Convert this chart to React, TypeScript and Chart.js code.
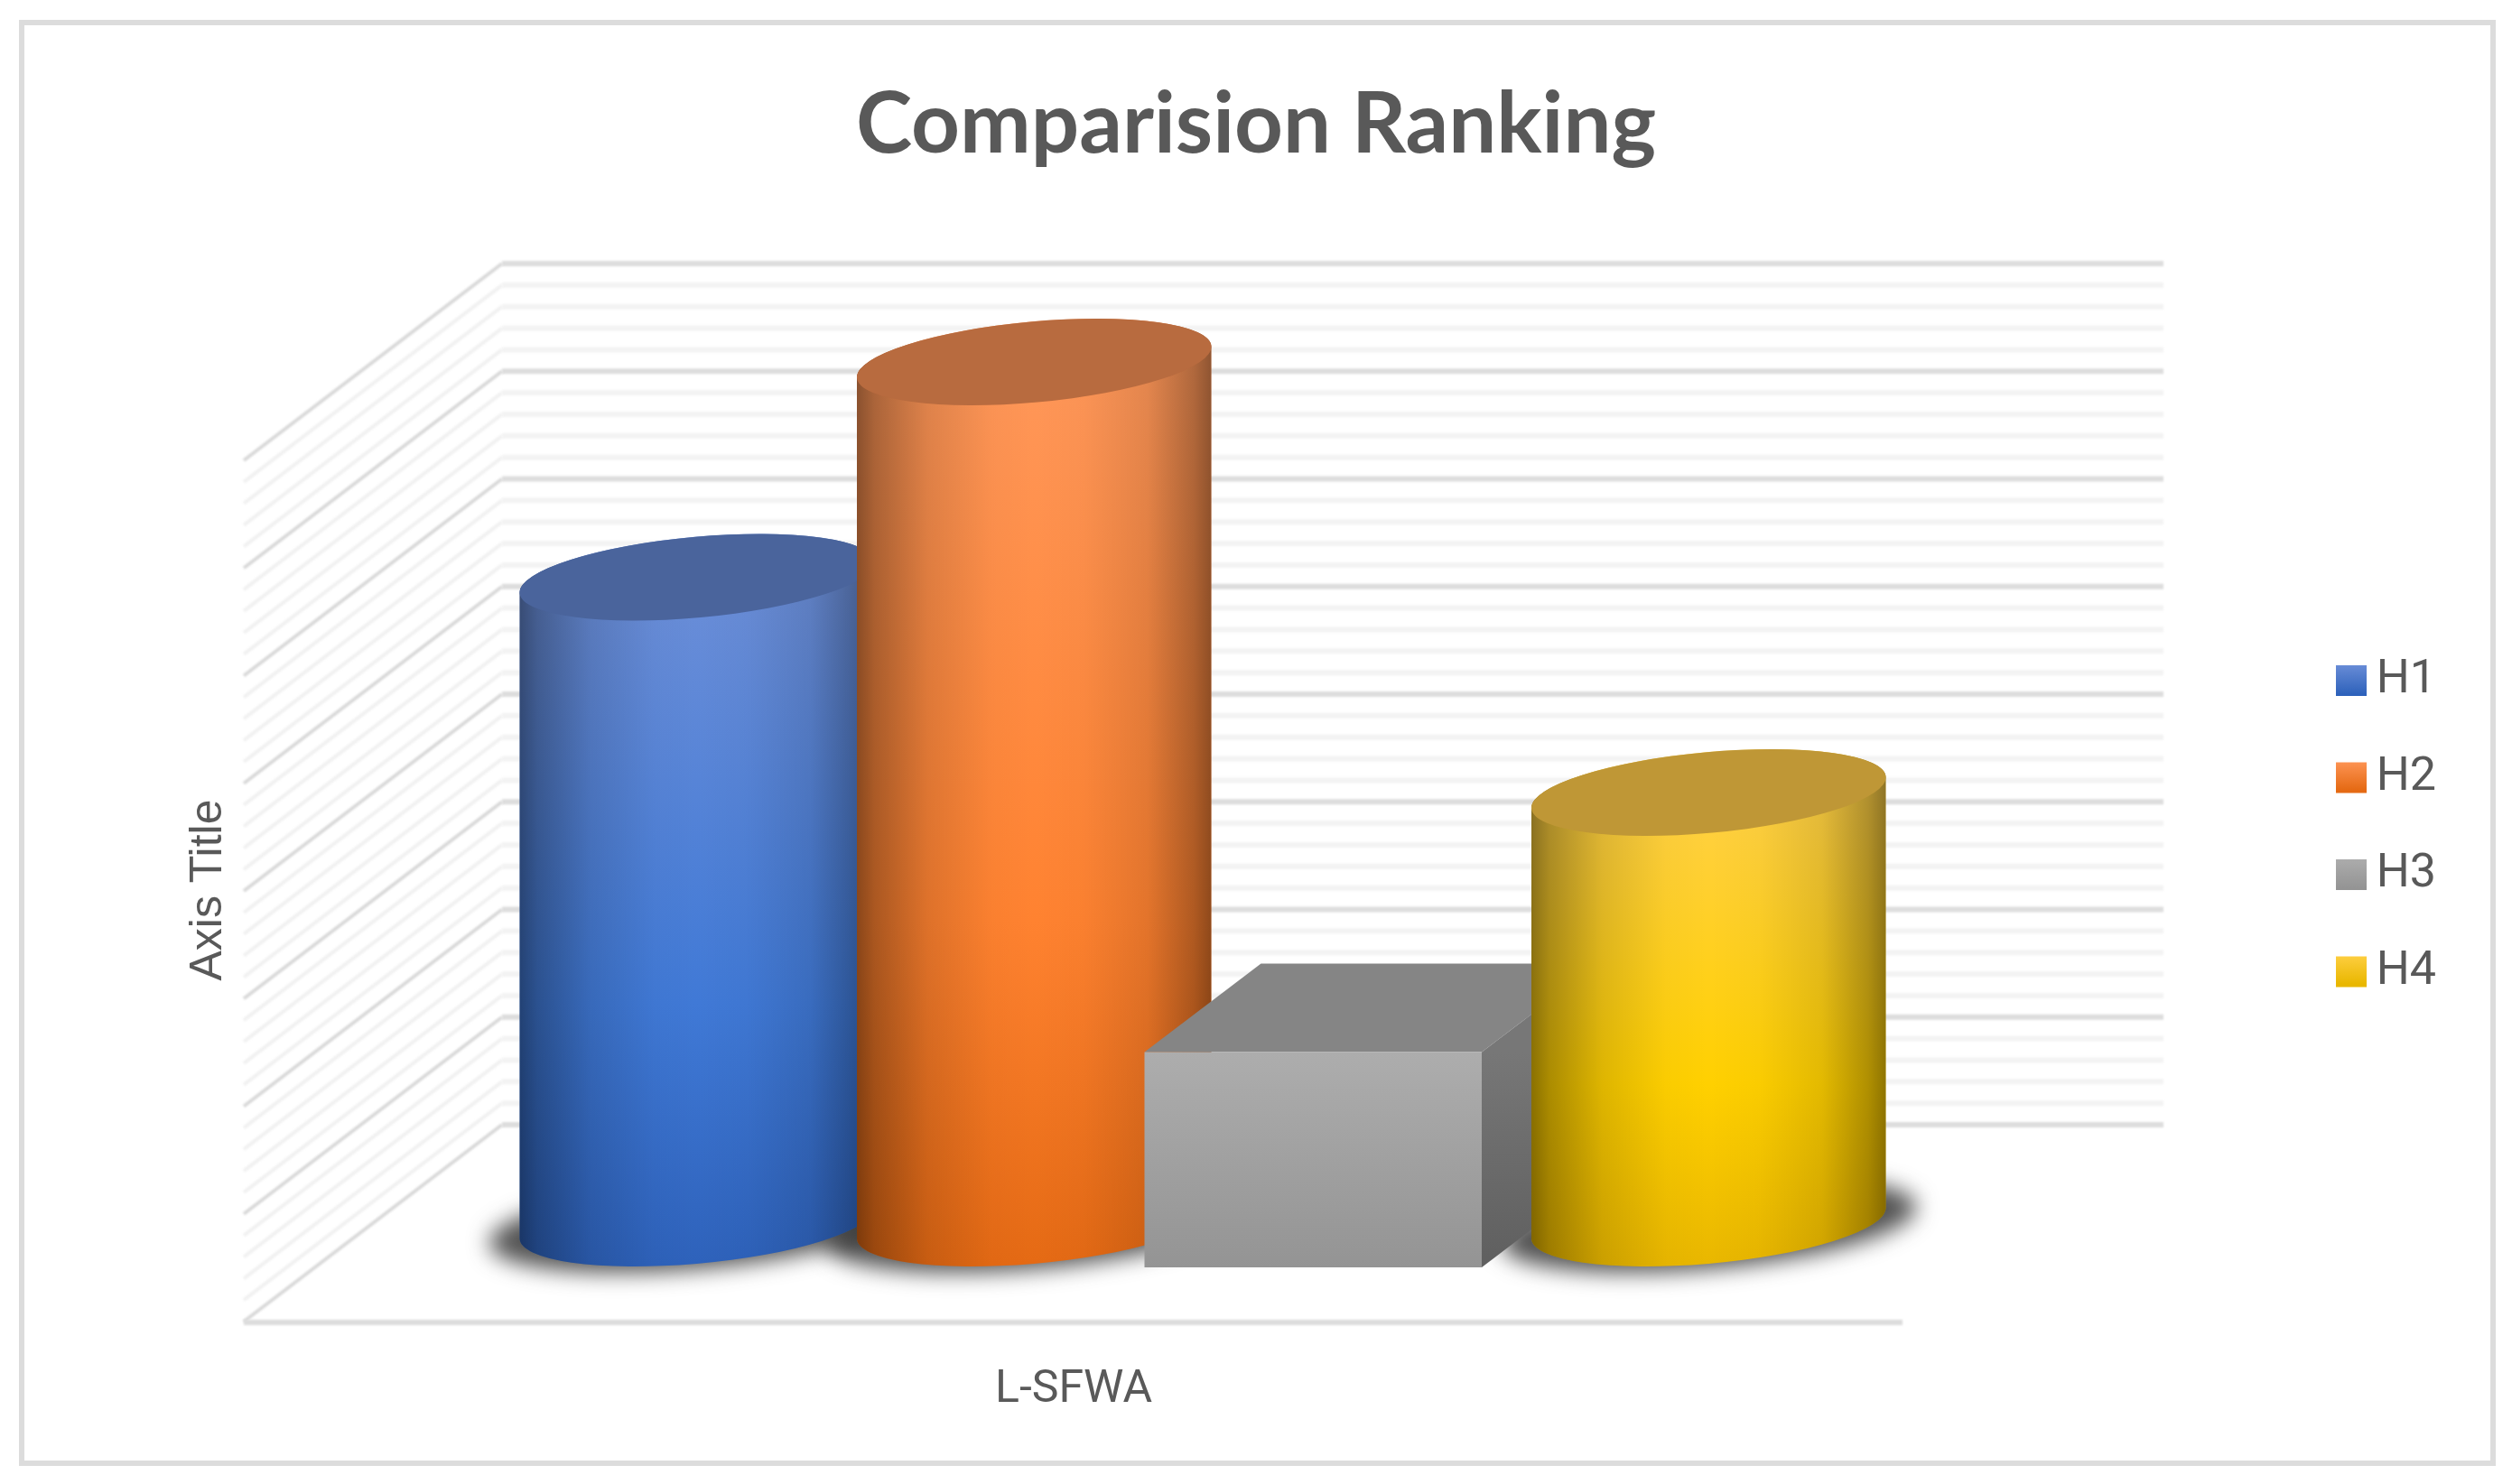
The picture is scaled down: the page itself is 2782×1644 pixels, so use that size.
import React, { useEffect, useRef } from "react";
import { Chart, registerables } from "chart.js";

Chart.register(...registerables);

const categories = ["L-SFWA"];
const seriesNames = ["H1", "H2", "H3", "H4"];
const h1Values = [3];
const h2Values = [4];
const h3Values = [1];
const h4Values = [2];
const axisMin = 0;
const axisMax = 4;
const minorStep = 0.1;
const minorPerMajor = 5;
const chartTitle = "Comparision Ranking";
const axisTitle = "Axis Title";

const W = 2782;
const H = 1644;
const AREA_LEFT = 585;
const AREA_RIGHT = 2079;
const AREA_TOP = 401;
const AREA_BOTTOM = 1355;
const DEPTH_HALF_Y = 109;
const TEXT = "#595959";

type Tone = { top: string; mid: string; bot: string; cap: string };
const tones: Tone[] = [
  { top: "#6b8ed8", mid: "#4079d6", bot: "#2e62bb", cap: "#4a649c" },
  { top: "#ff9759", mid: "#ff8230", bot: "#e56a14", cap: "#b86b3f" },
  { top: "#adadad", mid: "#a2a2a2", bot: "#949494", cap: "#858585" },
  { top: "#ffd045", mid: "#ffd000", bot: "#e9b700", cap: "#bf9736" },
];
const legendTops = [735, 841, 950, 1056];

function cylinderGeom(width: number) {
  const a = width * 0.5275;
  const b = a * 0.227;
  const r = (-5.2 * Math.PI) / 180;
  const t0 = Math.atan((b / a) * Math.tan(-r));
  const halfW = Math.sqrt(a * a * Math.cos(r) ** 2 + b * b * Math.sin(r) ** 2);
  return { a, b, r, t0, halfW };
}

function drawCylinder(ctx: CanvasRenderingContext2D, x: number, y: number, base: number, width: number, tone: Tone) {
  const { a, b, r, t0, halfW } = cylinderGeom(width);
  ctx.save();
  ctx.beginPath();
  ctx.ellipse(x, base, a, b, r, t0, t0 + Math.PI, false);
  ctx.ellipse(x, y, a, b, r, t0 + Math.PI, t0 + 2 * Math.PI, false);
  ctx.closePath();
  ctx.clip();
  const v = ctx.createLinearGradient(0, y, 0, base + b);
  v.addColorStop(0, tone.top);
  v.addColorStop(0.62, tone.mid);
  v.addColorStop(1, tone.bot);
  ctx.fillStyle = v;
  ctx.fillRect(x - halfW - 2, y - b - 30, 2 * halfW + 4, base - y + 2 * b + 60);
  const h = ctx.createLinearGradient(x - halfW, 0, x + halfW, 0);
  h.addColorStop(0, "rgba(0,0,0,0.46)");
  h.addColorStop(0.05, "rgba(0,0,0,0.33)");
  h.addColorStop(0.2, "rgba(0,0,0,0.13)");
  h.addColorStop(0.38, "rgba(0,0,0,0.02)");
  h.addColorStop(0.5, "rgba(0,0,0,0)");
  h.addColorStop(0.64, "rgba(0,0,0,0.02)");
  h.addColorStop(0.82, "rgba(0,0,0,0.11)");
  h.addColorStop(0.95, "rgba(0,0,0,0.31)");
  h.addColorStop(1, "rgba(0,0,0,0.44)");
  ctx.fillStyle = h;
  ctx.fillRect(x - halfW - 2, y - b - 30, 2 * halfW + 4, base - y + 2 * b + 60);
  ctx.restore();
  ctx.beginPath();
  ctx.ellipse(x, y, a, b, r, 0, 2 * Math.PI);
  ctx.fillStyle = tone.cap;
  ctx.fill();
}

function drawBox(ctx: CanvasRenderingContext2D, x: number, y: number, base: number, width: number, tone: Tone) {
  const dx = 64.5;
  const dy = 49;
  const l = x - dx - width / 2;
  const rr = x - dx + width / 2;
  const ft = y + dy;
  const fb = base + dy;
  ctx.beginPath();
  ctx.moveTo(l, ft);
  ctx.lineTo(l + 2 * dx, ft - 2 * dy);
  ctx.lineTo(rr + 2 * dx, ft - 2 * dy);
  ctx.lineTo(rr, ft);
  ctx.closePath();
  ctx.fillStyle = tone.cap;
  ctx.fill();
  const s = ctx.createLinearGradient(0, ft, 0, fb);
  s.addColorStop(0, "#777777");
  s.addColorStop(1, "#5f5f5f");
  ctx.beginPath();
  ctx.moveTo(rr, ft);
  ctx.lineTo(rr + 2 * dx, ft - 2 * dy);
  ctx.lineTo(rr + 2 * dx, fb - 2 * dy);
  ctx.lineTo(rr, fb);
  ctx.closePath();
  ctx.fillStyle = s;
  ctx.fill();
  const f = ctx.createLinearGradient(0, ft, 0, fb);
  f.addColorStop(0, tone.top);
  f.addColorStop(1, tone.bot);
  ctx.fillStyle = f;
  ctx.fillRect(l, ft, rr - l, fb - ft);
}

const scenePlugin = {
  id: "scene",
  afterLayout(chart: any) {
    const lg = chart.legend;
    if (lg) {
      const pad = lg.options.labels.padding;
      lg.left = 2587 - pad;
      lg.right = 2698;
      lg.top = 728 - pad;
      lg.bottom = 1200;
    }
  },
  beforeDraw(chart: any) {
    const ctx = chart.ctx as CanvasRenderingContext2D;
    ctx.save();
    ctx.fillStyle = "#ffffff";
    ctx.fillRect(0, 0, W, H);
    ctx.strokeStyle = "#dcdcdc";
    ctx.lineWidth = 6;
    ctx.strokeRect(24, 25, 2737, 1596);
    ctx.restore();
  },
  beforeDatasetsDraw(chart: any) {
    const ctx = chart.ctx as CanvasRenderingContext2D;
    const ya = chart.scales.y;
    const { left, right } = chart.chartArea;
    const backX = left - 29;
    const frontX = left - 315;
    const endX = right + 317;
    const floorEndX = right + 28;
    const floorY = ya.getPixelForValue(axisMin) + DEPTH_HALF_Y + 1;
    ctx.save();
    ctx.filter = "blur(0.8px)";
    ya.ticks.forEach((t: any, i: number) => {
      const major = i % minorPerMajor === 0;
      const by = ya.getPixelForValue(t.value) - DEPTH_HALF_Y;
      ctx.strokeStyle = major ? "#dddddd" : "#f3f3f3";
      ctx.lineWidth = 6;
      ctx.beginPath();
      ctx.moveTo(backX, by);
      ctx.lineTo(endX, by);
      ctx.stroke();
      ctx.strokeStyle = major ? "#d9d9d9" : "#f1f1f1";
      ctx.lineWidth = 4;
      ctx.beginPath();
      ctx.moveTo(backX, by);
      ctx.lineTo(frontX, by + 2 * DEPTH_HALF_Y);
      ctx.stroke();
    });
    ctx.strokeStyle = "#dcdcdc";
    ctx.lineWidth = 6;
    ctx.beginPath();
    ctx.moveTo(frontX, floorY);
    ctx.lineTo(floorEndX, floorY);
    ctx.stroke();
    ctx.filter = "blur(12px)";
    ctx.fillStyle = "rgba(45,45,45,0.82)";
    chart.data.datasets.forEach((d: any, i: number) => {
      if (d.shape !== "cylinder") return;
      const el = chart.getDatasetMeta(i).data[0];
      const { a, b, r } = cylinderGeom(el.width);
      ctx.beginPath();
      ctx.ellipse(el.x, el.base + 2, a + 34, b + 4, r, 0, 2 * Math.PI);
      ctx.fill();
    });
    ctx.restore();
    // Left-to-right painter's order: each bar overlaps the one before it.
    chart.data.datasets.forEach((d: any, i: number) => {
      const el = chart.getDatasetMeta(i).data[0];
      if (d.shape === "cylinder") drawCylinder(ctx, el.x, el.y, el.base, el.width, tones[i]);
      else drawBox(ctx, el.x, el.y, el.base, el.width, tones[i]);
    });
  },
  beforeDatasetDraw() {
    return false;
  },
  afterDraw(chart: any) {
    const ctx = chart.ctx as CanvasRenderingContext2D;
    ctx.save();
    ctx.translate(245, 986);
    ctx.rotate(-Math.PI / 2);
    ctx.font = '50px "Liberation Sans"';
    ctx.fillStyle = TEXT;
    ctx.textAlign = "center";
    ctx.textBaseline = "alphabetic";
    ctx.fillText(axisTitle, 0, 0);
    ctx.restore();
  },
};

export default function App() {
  const ref = useRef<HTMLCanvasElement | null>(null);
  useEffect(() => {
    document.body.style.margin = "0";
    const values = [h1Values, h2Values, h3Values, h4Values];
    const shapes = ["cylinder", "cylinder", "box", "cylinder"];
    const hiddenAxis = {
      display: true,
      ticks: { display: false },
      grid: { display: false, drawTicks: false },
      border: { display: false },
    };
    const titleSize = 94;
    const titleTop = 82;
    const chart = new Chart(ref.current as HTMLCanvasElement, {
      type: "bar",
      data: {
        labels: categories,
        datasets: seriesNames.map((n, i) => ({
          label: n,
          data: values[i],
          shape: shapes[i],
          backgroundColor: tones[i].mid,
          barPercentage: 1,
          categoryPercentage: 1,
        })) as any,
      },
      options: {
        responsive: false,
        animation: false,
        layout: { padding: 0 },
        plugins: {
          tooltip: { enabled: false },
          title: {
            display: true,
            text: chartTitle,
            color: TEXT,
            font: { family: "Lato", size: titleSize, weight: "bold" },
            padding: { top: titleTop, bottom: AREA_TOP - titleTop - titleSize * 1.2 },
          },
          legend: {
            position: "right",
            align: "start",
            labels: {
              boxWidth: 34,
              boxHeight: 34,
              padding: 55.5,
              color: TEXT,
              textAlign: "right",
              font: { family: "Roboto", size: 52 },
              generateLabels: (c: any) =>
                seriesNames.map((n, i) => {
                  const g = c.ctx.createLinearGradient(0, legendTops[i], 0, legendTops[i] + 34);
                  g.addColorStop(0, tones[i].top);
                  g.addColorStop(1, tones[i].bot);
                  return { text: n, fillStyle: g, strokeStyle: "rgba(0,0,0,0)", lineWidth: 0, hidden: false, datasetIndex: i, fontColor: TEXT };
                }),
            },
          },
        },
        scales: {
          x: {
            ...hiddenAxis,
            ticks: {
              display: true,
              color: TEXT,
              padding: 155,
              labelOffset: -143,
              maxRotation: 0,
              font: { family: "Roboto", size: 50 },
            },
            afterFit: (s: any) => {
              s.height = H - AREA_BOTTOM;
            },
          },
          y: {
            ...hiddenAxis,
            min: axisMin,
            max: axisMax,
            position: "left",
            ticks: { display: false, stepSize: minorStep, autoSkip: false },
            afterFit: (s: any) => {
              s.width = AREA_LEFT;
            },
          },
          y2: {
            ...hiddenAxis,
            type: "linear",
            position: "right",
            afterFit: (s: any) => {
              s.width = W - AREA_RIGHT - (s.chart.legend ? s.chart.legend.width : 0);
            },
          },
        },
      } as any,
      plugins: [scenePlugin],
    });
    return () => chart.destroy();
  }, []);
  return <canvas ref={ref} width={W} height={H} style={{ display: "block", position: "absolute", left: 0, top: 0 }} />;
}
